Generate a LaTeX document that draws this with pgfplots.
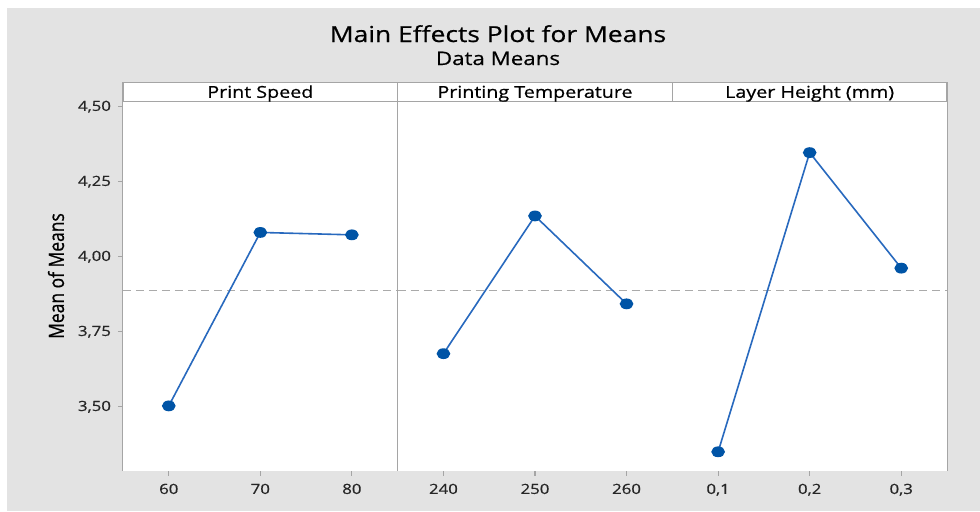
\documentclass[border=0pt]{standalone}
\usepackage{pgfplots}
\pgfplotsset{compat=1.18}
\usepackage{fontspec}
\setmainfont{Open Sans}[FakeStretch=1.2, FakeBold=0.6]
\newfontfamily\ylabfont{Open Sans}[FakeStretch=0.83, FakeBold=0.6]
\definecolor{bg}{RGB}{227,227,227}
\definecolor{border}{RGB}{165,165,165}
\definecolor{refl}{RGB}{170,170,170}
\definecolor{mk}{RGB}{0,84,166}
\definecolor{ln}{RGB}{40,105,190}
\pgfplotsset{
  panel/.style={
    scale only axis,
    width=137.33pt, height=184.7pt,
    anchor=south west,
    ymin=3.287, ymax=4.518,
    axis line style={border, line width=0.7pt},
    tick style={border, line width=0.6pt},
    major tick length=2.5pt,
    tick align=outside,
    xtick pos=bottom, ytick pos=left,
    ticklabel style={font=\fontsize{7}{8}\selectfont, text=black!85},
    xticklabel style={yshift=-0.5pt},
    clip=false,
  },
  eff/.style={color=ln, line width=0.8pt, mark=*, mark size=2.3pt,
    mark options={fill=mk, draw=mk, xscale=1.3}},
  refline/.style={color=refl, line width=0.6pt, dash pattern=on 4pt off 2.5pt},
}
\begin{document}
\begin{tikzpicture}
\fill[white] (0,0) rectangle (490pt,255.5pt);
\fill[bg] (3.5pt,0) rectangle (490pt,251.5pt);
% panel 1
\begin{axis}[panel, at={(61.5pt,20.15pt)},
  xmin=55, xmax=85, xtick={60,70,80}, xticklabels={60,70,80},
  ytick={3.5,3.75,4,4.25,4.5},
  yticklabels={{3,50},{3,75},{4,00},{4,25},{4,50}}]
\fill[white] (rel axis cs:0,0) rectangle (rel axis cs:1,1);
\addplot[refline, forget plot] coordinates {(55,3.888) (85,3.888)};
\addplot[eff] coordinates {(60,3.503) (70,4.081) (80,4.073)};
\end{axis}
% panel 2
\begin{axis}[panel, at={(198.83pt,20.15pt)},
  xmin=235, xmax=265, xtick={240,250,260}, xticklabels={240,250,260},
  ytick=\empty]
\fill[white] (rel axis cs:0,0) rectangle (rel axis cs:1,1);
\addplot[refline, forget plot] coordinates {(235,3.888) (265,3.888)};
\addplot[eff] coordinates {(240,3.677) (250,4.136) (260,3.843)};
\end{axis}
% panel 3
\begin{axis}[panel, at={(336.17pt,20.15pt)},
  xmin=0.05, xmax=0.35, xtick={0.1,0.2,0.3}, xticklabels={{0,1},{0,2},{0,3}},
  ytick=\empty]
\fill[white] (rel axis cs:0,0) rectangle (rel axis cs:1,1);
\addplot[refline, forget plot] coordinates {(0.05,3.888) (0.35,3.888)};
\addplot[eff] coordinates {(0.1,3.350) (0.2,4.347) (0.3,3.962)};
\end{axis}
% headers
\draw[border, line width=0.7pt, fill=white] (61.5pt,204.85pt) rectangle (473.5pt,214.15pt);
\draw[border, line width=0.7pt] (198.83pt,204.85pt) -- (198.83pt,214.15pt);
\draw[border, line width=0.7pt] (336.17pt,204.85pt) -- (336.17pt,214.15pt);
\node[anchor=base, inner sep=0pt, font=\fontsize{8.2}{9}\selectfont] at (130.17pt,206.6pt) {Print Speed};
\node[anchor=base, inner sep=0pt, font=\fontsize{8.2}{9}\selectfont] at (267.5pt,206.6pt) {Printing Temperature};
\node[anchor=base, inner sep=0pt, font=\fontsize{8.2}{9}\selectfont] at (404.83pt,206.6pt) {Layer Height (mm)};
% titles
\node[anchor=base, inner sep=0pt, font=\fontsize{11}{13}\selectfont] at (249pt,234.5pt) {Main Effects Plot for Means};
\node[anchor=base, inner sep=0pt, font=\fontsize{9.3}{11}\selectfont] at (249pt,223pt) {Data Means};
% y label
\node[rotate=90, inner sep=0pt, font=\ylabfont\fontsize{10.5}{12}\selectfont] at (28pt,117.5pt) {Mean of Means};
\end{tikzpicture}
\end{document}
